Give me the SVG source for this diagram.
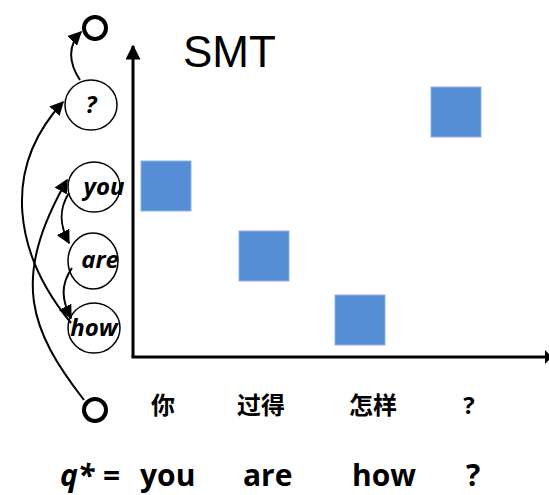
<svg xmlns="http://www.w3.org/2000/svg" width="549" height="495" viewBox="0 0 549 495">
<style>
.node{fill:none;stroke:#000;stroke-width:1.5}
.term{fill:none;stroke:#000;stroke-width:4}
.lbl{font-family:"Open Sans","Liberation Sans",sans-serif;font-weight:bold;font-style:italic;font-size:24px;text-anchor:middle;fill:#000}
.conn{fill:none;stroke:#000;stroke-width:2}
.axis{fill:none;stroke:#000;stroke-width:3}
.sq{fill:#558ED5;stroke:#8EB4E3;stroke-width:1}
.zh{font-family:"Open Sans","Noto Sans CJK SC",sans-serif;font-size:24px;font-weight:bold;text-anchor:middle;fill:#000}
.bot{font-family:"Open Sans","Liberation Sans",sans-serif;font-weight:bold;font-size:30px;fill:#000}
</style>
<defs>
<marker id="ah" viewBox="0 0 10 10" refX="9" refY="5" markerWidth="7" markerHeight="7" markerUnits="strokeWidth" orient="auto">
<path d="M0,0 L10,5 L0,10 z" fill="#000"/>
</marker>
<marker id="axh" viewBox="0 0 10 10" refX="9" refY="5" markerWidth="5" markerHeight="5" markerUnits="strokeWidth" orient="auto">
<path d="M0,0 L10,5 L0,10 z" fill="#000"/>
</marker>
</defs>

<g id="chart">
<line class="axis" x1="133" y1="357" x2="133" y2="46" marker-end="url(#axh)"/>
<line class="axis" x1="131.5" y1="357" x2="549" y2="357"/>
<path d="M545,350 L552,357 L545,364 z" fill="#000"/>
<text x="183" y="67" font-family="'Liberation Sans',Arial,sans-serif" font-size="44">SMT</text>
<rect class="sq" x="141" y="161" width="50" height="50"/>
<rect class="sq" x="239" y="231" width="50" height="50"/>
<rect class="sq" x="335" y="295" width="50" height="50"/>
<rect class="sq" x="431" y="87" width="50" height="50"/>
</g>

<g id="source-labels">
<text class="zh" x="163" y="414">你</text>
<text class="zh" x="261" y="414">过得</text>
<text class="zh" x="373" y="414">怎样</text>
<text class="zh" x="469" y="414">?</text>
</g>

<g id="end"><circle class="term" cx="95" cy="28" r="11"/></g>
<g id="start"><circle class="term" cx="95" cy="410" r="11"/></g>
<g id="n-q"><ellipse class="node" cx="91" cy="105" rx="26" ry="25"/><text class="lbl" x="91" y="113">?</text></g>
<g id="n-you"><ellipse class="node" cx="94" cy="187" rx="26" ry="25"/><text class="lbl" x="104" y="195">you</text></g>
<g id="n-are"><ellipse class="node" cx="93" cy="261" rx="25" ry="28"/><text class="lbl" x="100" y="268">are</text></g>
<g id="n-how"><ellipse class="node" cx="94" cy="328" rx="26" ry="25"/><text class="lbl" x="94" y="336">how</text></g>

<g id="connectors">
<path class="conn" d="M80,80 C68,62 68,45 81,32" marker-end="url(#ah)"/>
<path class="conn" d="M71,323 C15,255 0,170 63,102" marker-end="url(#ah)"/>
<path class="conn" d="M84,400 C30,330 10,280 67,180" marker-end="url(#ah)"/>
<path class="conn" d="M69,193 C58,210 60,226 69,243" marker-end="url(#ah)"/>
<path class="conn" d="M72,268 C60,285 62,301 71,318" marker-end="url(#ah)"/>
</g>

<g id="target">
<text class="bot" x="60" y="486" font-style="italic">q*</text>
<text class="bot" x="103" y="486">=</text>
<text class="bot" x="140" y="486">you</text>
<text class="bot" x="243" y="486">are</text>
<text class="bot" x="352" y="486">how</text>
<text class="bot" x="466" y="486">?</text>
</g>
</svg>
